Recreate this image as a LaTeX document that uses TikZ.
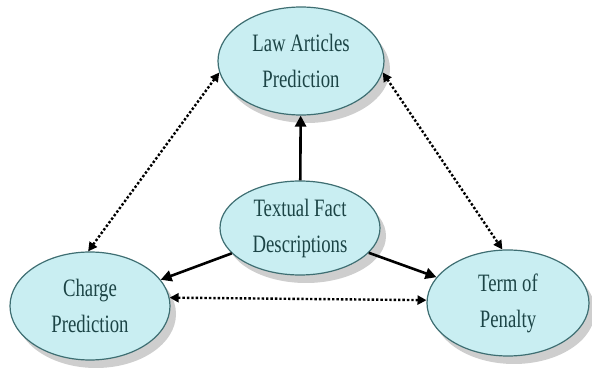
\documentclass[tikz,border=0pt]{standalone}
\usepackage{fontspec}
\setmainfont{Liberation Serif}[FakeStretch=0.75]
\usetikzlibrary{shapes.geometric,shadows,arrows.meta}
\definecolor{ellfill}{HTML}{C9EEF2}
\definecolor{elldraw}{HTML}{3E6E72}
\definecolor{elltext}{HTML}{1C4446}
\tikzset{
  ell/.style={ellipse, draw=elldraw, line width=1.2pt, fill=ellfill,
    inner sep=0pt, text=elltext, align=center,
    font=\fontsize{25}{36}\selectfont,
    drop shadow={shadow xshift=6pt, shadow yshift=-8pt, fill=gray!55, opacity=0.7}},
  solidarrow/.style={line width=2.6pt, -{Triangle[length=11pt,width=11pt]}},
  dotarrow/.style={line width=2.4pt, dotted, {Triangle[length=9pt,width=9pt]}-{Triangle[length=9pt,width=9pt]}}
}
\begin{document}
\begin{tikzpicture}[x=1pt,y=-1pt]
\useasboundingbox (0,0) rectangle (592,371);
\node[ell, minimum width=166pt, minimum height=108pt] (law) at (301,61) {Law Articles\\Prediction};
\node[ell, minimum width=160pt, minimum height=94pt] (fact) at (300,228) {Textual Fact\\Descriptions};
\node[ell, minimum width=160pt, minimum height=108pt] (charge) at (90,306) {Charge\\Prediction};
\node[ell, minimum width=162pt, minimum height=106pt] (term) at (508,303) {Term of\\Penalty};
\draw[solidarrow] (fact) -- (law);
\draw[solidarrow] (fact) -- (charge);
\draw[solidarrow] (fact) -- (term);
\draw[dotarrow] (law.188) -- (charge.92);
\draw[dotarrow] (law.352) -- (term.96);
\draw[dotarrow] (charge.6) -- (term.178);
\end{tikzpicture}
\end{document}
